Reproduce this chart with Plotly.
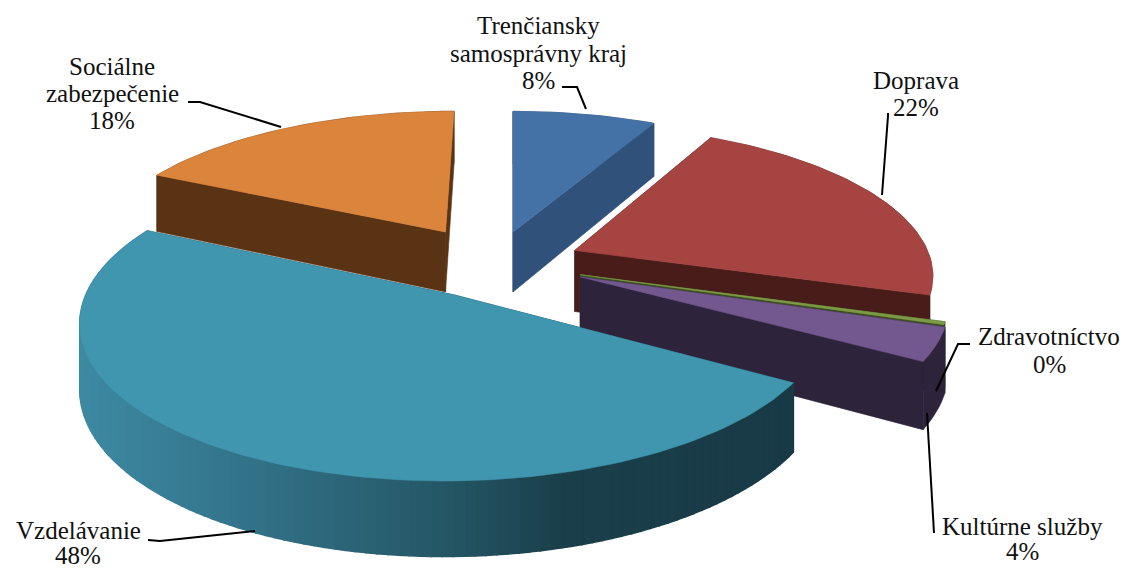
import math
import plotly.graph_objects as go

# ---- data (clockwise from 12 o'clock) ----
categories = ["Trenčiansky samosprávny kraj", "Doprava", "Zdravotníctvo",
              "Kultúrne služby", "Vzdelávanie", "Sociálne zabezpečenie"]
values = [7.6, 22.2, 0.3, 3.5, 48.6, 17.8]
percent_labels = ["8%", "22%", "0%", "4%", "48%", "18%"]

# ---- style ----
top_colors = ["#4572a6", "#a64442", "#7d9a45", "#72588e", "#4096ae", "#da843c"]
wall_colors = ["#30527a", "#481c19", "#3c4d22", "#2d233a", None, "#5a3315"]
pull = [(0.0, 0.23), (0.175, 0.10), (0.186, -0.065), (0.186, -0.08),
        (-0.158, -0.197), (-0.195, 0.231)]
draw_order = [5, 0, 1, 2, 3, 4]
VX, CY, RX, RY, K, DEPTH = 513, 265, 358, 148, 0.15, 62

grad_x = [80, 300, 450, 560, 800]
grad_c = [(0x3d, 0x8a, 0xa3), (0x2f, 0x6b, 0x80), (0x24, 0x56, 0x64),
          (0x1a, 0x3f, 0x4b), (0x18, 0x3a, 0x46)]

label_lines = [
    (["Trenčiansky", "samosprávny kraj"], [25, 53], 538),
    (["Doprava"], [80], 916),
    (["Zdravotníctvo"], [336], 1049),
    (["Kultúrne služby"], [526], 1022),
    (["Vzdelávanie"], [530], 78),
    (["Sociálne", "zabezpečenie"], [66, 93], 112),
]
percent_pos = [(538, 80), (916, 107), (1049, 364), (1022, 551), (78, 555), (112, 120)]
leaders = [
    ([562, 577, 586], [87, 87, 109]),
    ([888, 888, 882], [113, 116, 195]),
    ([970, 958, 936], [344, 344, 391]),
    ([934, 927], [533, 413]),
    ([148, 160, 255], [540, 541, 531]),
    ([188, 200, 281], [102, 102, 127]),
]


def project(X, Y, drop=0.0):
    d = 1 + K * Y
    return VX + RX * X / d, CY - RY * Y / d + drop / d


def lerp_color(x):
    x = min(max(x, grad_x[0]), grad_x[-1])
    for i in range(len(grad_x) - 1):
        if x <= grad_x[i + 1]:
            t = (x - grad_x[i]) / (grad_x[i + 1] - grad_x[i])
            c = [round(a + (b - a) * t) for a, b in zip(grad_c[i], grad_c[i + 1])]
            return "rgb(%d,%d,%d)" % tuple(c)
    return "rgb(24,58,70)"


def poly(fig, xs, ys, color, width=0.6):
    fig.add_trace(go.Scatter(x=xs + xs[:1], y=ys + ys[:1], mode="lines", fill="toself",
                             fillcolor=color, line=dict(color=color, width=width),
                             hoverinfo="skip", showlegend=False))


total = sum(values)
starts = []
acc = 0.0
for v in values:
    starts.append(acc)
    acc += v

fig = go.Figure()
for i in draw_order:
    a0 = math.radians(starts[i] / total * 360)
    a1 = math.radians((starts[i] + values[i]) / total * 360)
    n = max(6, int(values[i] * 2.5))
    px, py = pull[i]
    arc = [(px + math.sin(a0 + (a1 - a0) * j / n), py + math.cos(a0 + (a1 - a0) * j / n))
           for j in range(n + 1)]
    top = [project(px, py)] + [project(X, Y) for X, Y in arc]
    base_apex = project(px, py, DEPTH)
    base_arc = [project(X, Y, DEPTH) for X, Y in arc]
    wall = wall_colors[i] or "#183a46"
    # radial faces
    for end, t_end in ((0, top[1]), (-1, top[-1])):
        poly(fig, [top[0][0], t_end[0], base_arc[end][0], base_apex[0]],
             [top[0][1], t_end[1], base_arc[end][1], base_apex[1]], wall)
    # outer face as one polygon, or as strips for the slice with the gradient
    if wall_colors[i] is None:
        for j in range(n):
            c = lerp_color((top[j + 1][0] + top[j + 2][0]) / 2)
            poly(fig, [top[j + 1][0], top[j + 2][0], base_arc[j + 1][0], base_arc[j][0]],
                 [top[j + 1][1], top[j + 2][1], base_arc[j + 1][1], base_arc[j][1]], c, 1.6)
    else:
        poly(fig, [p[0] for p in top[1:]] + [p[0] for p in base_arc[::-1]],
             [p[1] for p in top[1:]] + [p[1] for p in base_arc[::-1]], wall)
    poly(fig, [p[0] for p in top], [p[1] for p in top], top_colors[i])

for xs, ys in leaders:
    fig.add_trace(go.Scatter(x=xs, y=ys, mode="lines", line=dict(color="black", width=2),
                             hoverinfo="skip", showlegend=False))

text_font = dict(family="Liberation Serif", size=25, color="#111111")
annotations = []
for lines, ys, x in label_lines:
    for t, y in zip(lines, ys):
        annotations.append(dict(x=x, y=y, text=t, showarrow=False, xanchor="center",
                                yanchor="middle", xref="x", yref="y", font=text_font))
for t, (x, y) in zip(percent_labels, percent_pos):
    annotations.append(dict(x=x, y=y, text=t, showarrow=False, xanchor="center",
                            yanchor="middle", xref="x", yref="y", font=text_font))

fig.update_layout(
    width=1129, height=568, margin=dict(l=0, r=0, t=0, b=0),
    paper_bgcolor="white", plot_bgcolor="white", showlegend=False,
    xaxis=dict(range=[0, 1129], visible=False, fixedrange=True),
    yaxis=dict(range=[568, 0], visible=False, fixedrange=True),
    annotations=annotations,
)
fig.write_html("out.html", config={"displayModeBar": False},
               post_script="document.body.style.margin='0';document.body.style.overflow='hidden';")
